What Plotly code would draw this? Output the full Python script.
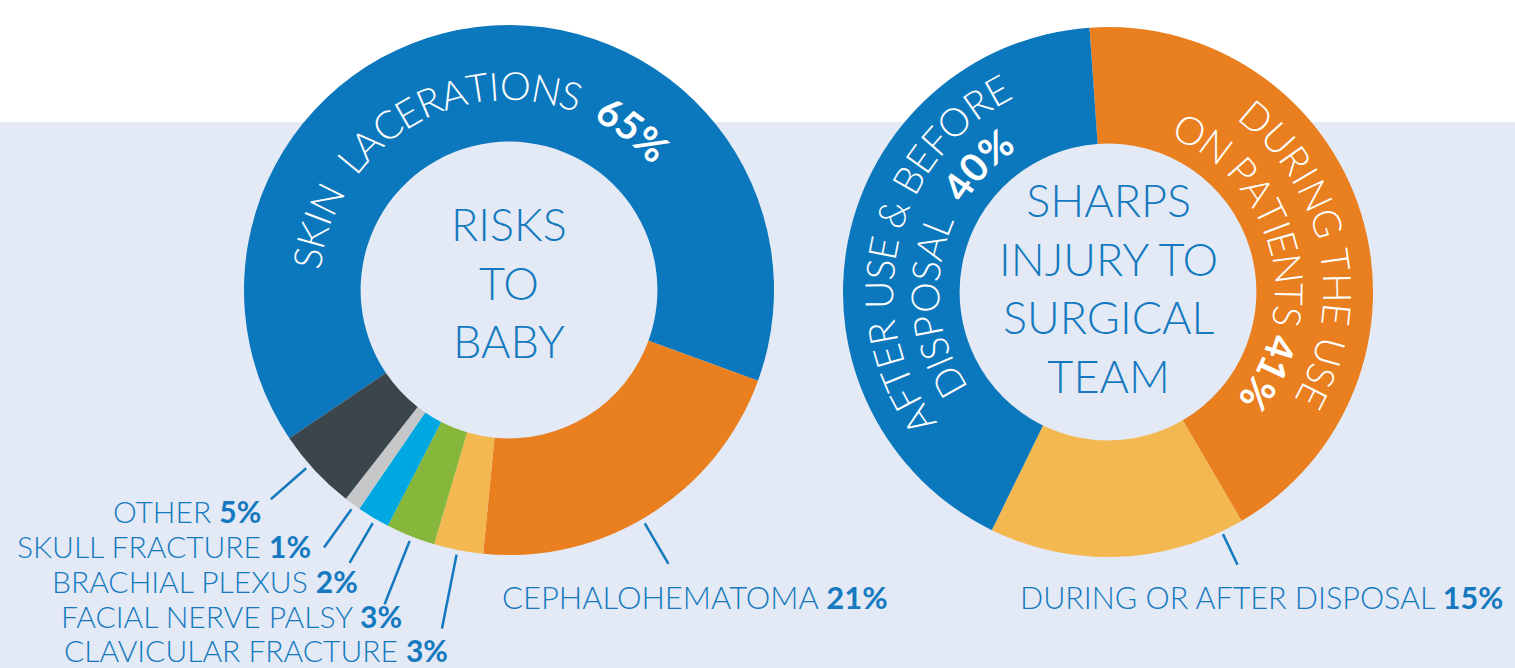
import math
import plotly.graph_objects as go

W, H = 1515, 668

# ---------------- data ----------------
baby_labels = ["SKIN LACERATIONS", "CEPHALOHEMATOMA", "CLAVICULAR FRACTURE",
               "FACIAL NERVE PALSY", "BRACHIAL PLEXUS", "SKULL FRACTURE", "OTHER"]
baby_values = [65, 21, 3, 3, 2, 1, 5]
baby_colors = ["#0B77BD", "#E97F1F", "#F3B850", "#86B73A", "#00A8E2", "#C5C7C9", "#3A454C"]

sharps_labels = ["DURING THE USE ON PATIENTS", "DURING OR AFTER DISPOSAL", "AFTER USE & BEFORE DISPOSAL"]
sharps_values = [41, 15, 40]
sharps_colors = ["#E97F1F", "#F3B850", "#0B77BD"]

baby_title = "RISKS<br>TO<br>BABY"
sharps_title = "SHARPS<br>INJURY TO<br>SURGICAL<br>TEAM"

# ---------------- layout constants ----------------
TEXT_BLUE = "#1479BF"
BG = "#E3E9F5"
FONT = "Lato"
LEFT = dict(cx=509, cy=290, r=265)
RIGHT = dict(cx=1108, cy=292, r=265)
HOLE = 0.56


def px(x, y):
    return x / W, 1 - y / H


def domain(c):
    return dict(x=[(c["cx"] - c["r"]) / W, (c["cx"] + c["r"]) / W],
                y=[1 - (c["cy"] + c["r"]) / H, 1 - (c["cy"] - c["r"]) / H])


def polar(c, theta, r):
    t = math.radians(theta)
    return c["cx"] + r * math.sin(t), c["cy"] - r * math.cos(t)


fig = go.Figure()
fig.add_trace(go.Pie(labels=baby_labels, values=baby_values, hole=HOLE, sort=False,
                     direction="clockwise", rotation=-124, textinfo="none",
                     marker=dict(colors=baby_colors, line=dict(width=0)),
                     domain=domain(LEFT), showlegend=False, hoverinfo="label+percent"))
fig.add_trace(go.Pie(labels=sharps_labels, values=sharps_values, hole=HOLE, sort=False,
                     direction="clockwise", rotation=-4, textinfo="none",
                     marker=dict(colors=sharps_colors, line=dict(width=0)),
                     domain=domain(RIGHT), showlegend=False, hoverinfo="label+value"))

annotations = []
shapes = [dict(type="rect", xref="paper", yref="paper", x0=0, x1=1, y0=0, y1=1 - 122 / H,
               fillcolor=BG, line=dict(width=0), layer="below")]

# centre titles
for c, txt, yc in [(LEFT, baby_title, 283), (RIGHT, sharps_title, 288)]:
    x, y = px(c["cx"], yc)
    annotations.append(dict(text=txt, x=x, y=y, xref="paper", yref="paper", showarrow=False,
                            xanchor="center", yanchor="middle",
                            font=dict(family=FONT, size=45, color=TEXT_BLUE, weight=300)))

# curved text along the rings
CW = {"A": .66, "B": .63, "C": .67, "D": .74, "E": .55, "F": .53, "G": .72, "H": .75,
      "I": .27, "J": .39, "K": .64, "L": .49, "M": .9, "N": .75, "O": .79, "P": .59,
      "R": .62, "S": .51, "T": .58, "U": .72, "V": .66, "W": 1.0, "X": .63, "Y": .6,
      " ": .26, "&": .68, "%": .85, "0": .58, "1": .58, "4": .58, "5": .58, "6": .58}

ARC_TEXT = [
    dict(c=LEFT, r=205, t0=279.1, t1=44.4, runs=[("SKIN  LACERATIONS", False), ("  65%", True)]),
    dict(c=RIGHT, r=230, t0=236.0, t1=331.2, runs=[("AFTER USE & BEFORE", False)]),
    dict(c=RIGHT, r=184, t0=240.5, t1=322.1, runs=[("DISPOSAL", False), ("  40%", True)]),
    dict(c=RIGHT, r=230, t0=40.4, t1=117.1, runs=[("DURING THE USE", False)]),
    dict(c=RIGHT, r=182, t0=27.0, t1=124.1, runs=[("ON PATIENTS", False), (" 41%", True)]),
]

for spec in ARC_TEXT:
    chars = [(ch, b) for s, b in spec["runs"] for ch in s]
    pos, acc = [], 0.0
    for ch, b in chars:
        w = CW.get(ch, .6)
        pos.append(acc + w / 2)
        acc += w
    t0, t1 = spec["t0"], spec["t1"]
    if t1 < t0:
        t1 += 360
    p0, p1 = pos[0], pos[-1]
    for (ch, b), p in zip(chars, pos):
        if ch == " ":
            continue
        th = t0 + (t1 - t0) * (p - p0) / (p1 - p0)
        x, y = polar(spec["c"], th, spec["r"])
        xp, yp = px(x, y)
        ang = ((th + 180) % 360) - 180
        annotations.append(dict(text=ch, x=xp, y=yp, xref="paper", yref="paper", showarrow=False,
                                xanchor="center", yanchor="middle", textangle=ang,
                                font=dict(family=FONT, size=39, color="white",
                                          weight=700 if b else 300)))

# outside labels with leader lines
LABELS = [
    dict(text="OTHER <b>5%</b>", x=263, y=511, size=30, anchor="right", c=LEFT, th=228.7, r0=270, r1=317),
    dict(text="SKULL FRACTURE <b>1%</b>", x=313, y=546, size=30, anchor="right", c=LEFT, th=215.7, r0=270, r1=317),
    dict(text="BRACHIAL PLEXUS <b>2%</b>", x=360, y=581, size=30, anchor="right", c=LEFT, th=210.3, r0=270, r1=316),
    dict(text="FACIAL NERVE PALSY <b>3%</b>", x=404, y=616, size=30, anchor="right", c=LEFT, th=201.6, r0=270, r1=338),
    dict(text="CLAVICULAR FRACTURE <b>3%</b>", x=450, y=650, size=30, anchor="right", c=LEFT, th=191.2, r0=270, r1=345),
    dict(text="CEPHALOHEMATOMA <b>21%</b>", x=500, y=597, size=31, anchor="left", c=LEFT, th=149.8, r0=270, r1=317),
    dict(text="DURING OR AFTER DISPOSAL <b>15%</b>", x=1018, y=597, size=30.5, anchor="left", c=RIGHT, th=154.6, r0=268, r1=302),
]
for lb in LABELS:
    xp, yp = px(lb["x"], lb["y"])
    annotations.append(dict(text=lb["text"], x=xp, y=yp, xref="paper", yref="paper", showarrow=False,
                            xanchor=lb["anchor"], yanchor="middle",
                            font=dict(family=FONT, size=lb["size"], color=TEXT_BLUE, weight=300)))
    xa, ya = polar(lb["c"], lb["th"], lb["r0"])
    xb, yb = polar(lb["c"], lb["th"], lb["r1"])
    (xa, ya), (xb, yb) = px(xa, ya), px(xb, yb)
    shapes.append(dict(type="line", xref="paper", yref="paper", x0=xa, y0=ya, x1=xb, y1=yb,
                       line=dict(color=TEXT_BLUE, width=2.5)))

fig.update_layout(width=W, height=H, margin=dict(l=0, r=0, t=0, b=0),
                  paper_bgcolor="white", plot_bgcolor="white",
                  annotations=annotations, shapes=shapes, showlegend=False)
fig.write_html("out.html", config={"displayModeBar": False},
               post_script="document.body.style.margin='0';document.body.style.overflow='hidden';"
                           "document.documentElement.style.overflow='hidden';")
